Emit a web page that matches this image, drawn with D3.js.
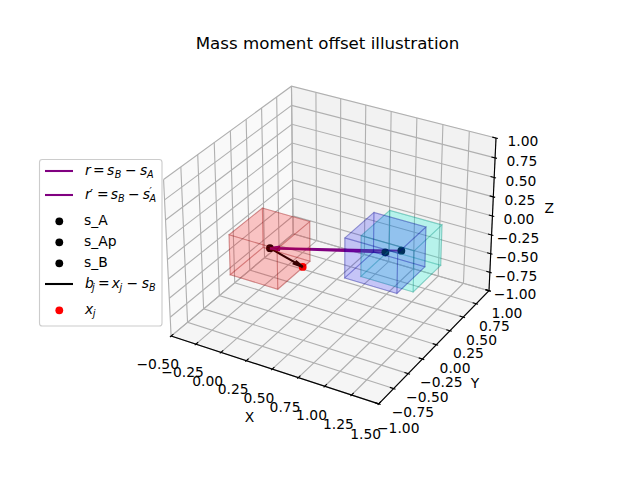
<!DOCTYPE html>
<html><head><meta charset="utf-8">
<style>html,body{margin:0;padding:0;background:#fff}svg{display:block}text{font-family:"DejaVu Sans";fill:#000}</style>
<script src="https://cdn.jsdelivr.net/npm/d3@7"></script></head>
<body><svg id="c" width="640" height="480"></svg>
<script>
const titleText = "Mass moment offset illustration";
const xTicks = [-0.5,-0.25,0,0.25,0.5,0.75,1,1.25,1.5];
const yTicks = [-1,-0.75,-0.5,-0.25,0,0.25,0.5,0.75,1];
const zTicks = [-1,-0.75,-0.5,-0.25,0,0.25,0.5,0.75,1];
const xLim = [-0.5,1.5], yLim = [-1,1], zLim = [-1,1];
const sA = [0.769,0.432,-0.384];
const sAp = [0.874,0.528,-0.384];
const sB = [-0.127,0,-0.384];
const xj = [0.154,0.077,-0.576];
const boxNames = ["A","B","C"];
const boxCenters = [[-0.127,0,-0.384],[0.769,0.432,-0.384],[0.874,0.528,-0.384]];
const boxSizes = [[0.48,0.54,0.53],[0.51,0.51,0.53],[0.51,0.51,0.54]];
const boxColors = ["#ff0000","#0000ff","#00f5d5"];
const boxAlpha = [0.115,0.1,0.13];

const svg = d3.select("#c");
const bx=1.8294640721620434*4/Math.sqrt(41), bz=1.8294640721620434*3/Math.sqrt(41);
const sx=d3.scaleLinear().domain(xLim).range([-bx/48,bx+bx/48]);
const sy=d3.scaleLinear().domain(yLim).range([-bx/48,bx+bx/48]);
const sz=d3.scaleLinear().domain(zLim).range([-bz/48,bz+bz/48]);
const px=d3.scaleLinear().domain([-0.095,0.09]).range([143.2,512.8]);
const py=d3.scaleLinear().domain([-0.095,0.09]).range([427.2,57.6]);
const el=30*Math.PI/180, az=-60*Math.PI/180, D=10;
const W=[Math.cos(el)*Math.cos(az),Math.cos(el)*Math.sin(az),Math.sin(el)];
const U=[-Math.sin(az),Math.cos(az),0];
const V=[W[1]*U[2]-W[2]*U[1],W[2]*U[0]-W[0]*U[2],W[0]*U[1]-W[1]*U[0]];
const dot=(a,b)=>a[0]*b[0]+a[1]*b[1]+a[2]*b[2];
function cam(p){const d=[sx(p[0])-bx/2,sy(p[1])-bx/2,sz(p[2])-bz/2];return [dot(d,U),dot(d,V),dot(d,W)];}
function proj(p){const c=cam(p),T=D-c[2];return [px(c[0]/T),py(c[1]/T)];}
const near=p=>cam(p)[2];
const line=d3.line();
const lims=[xLim,yLim,zLim];
const delt=lims.map(l=>(l[1]-l[0])/12);
const d2=delt.map(d=>d*(1+1/24));
const [x0,y0,z0]=lims.map(l=>l[0]),[x1,y1,z1]=lims.map(l=>l[1]);

const panes=[
 {c:"#f9f9f9",p:[[x0,y0,z0],[x0,y1,z0],[x0,y1,z1],[x0,y0,z1]]},
 {c:"#f2f2f2",p:[[x0,y1,z0],[x1,y1,z0],[x1,y1,z1],[x0,y1,z1]]},
 {c:"#f5f5f5",p:[[x0,y0,z0],[x1,y0,z0],[x1,y1,z0],[x0,y1,z0]]}];
svg.append("g").selectAll("path").data(panes).join("path")
 .attr("d",d=>line(d.p.map(proj))+"Z").attr("fill",d=>d.c).attr("stroke",d=>d.c).attr("stroke-width",1);
const gridC="#b0b0b0", gridW=1.11;
const grid=svg.append("g").attr("fill","none").attr("stroke",gridC).attr("stroke-width",gridW);
xTicks.forEach(t=>grid.append("path").attr("d",line([[t,y0,z0],[t,y1,z0],[t,y1,z1]].map(proj))));
yTicks.forEach(t=>grid.append("path").attr("d",line([[x1,t,z0],[x0,t,z0],[x0,t,z1]].map(proj))));
zTicks.forEach(t=>grid.append("path").attr("d",line([[x0,y0,t],[x0,y1,t],[x1,y1,t]].map(proj))));

const fmt=d3.format(".2f");
const lab=t=>fmt(t).replace("-","\u2212");
const perPt=48/(72*3.696*2);
const tickOff=(3.5+8)*perPt, labOff=(4+21)*perPt;
const ax=svg.append("g");
function axis(edge1,edge2,idx,tickdir,ticks,signs,name,tickNudge,labelNudge,moveAll){
 ax.append("path").attr("d",line([edge1,edge2].map(proj))).attr("stroke","#000").attr("stroke-width",1.11).attr("fill","none");
 ticks.forEach(t=>{
  const a=edge1.slice(),b=edge1.slice();
  a[idx]=t;b[idx]=t;
  a[tickdir]+=0.1*signs[tickdir]*d2[tickdir];
  b[tickdir]-=0.2*signs[tickdir]*d2[tickdir];
  ax.append("path").attr("d",line([a,b].map(proj))).attr("stroke","#000").attr("stroke-width",1.11);
  const l=edge1.slice();l[idx]=t;
  [0,1,2].forEach(i=>{if(i!==idx&&(moveAll||i===tickdir))l[i]+=signs[i]*tickOff*d2[i];});
  const q=proj(l);
  ax.append("text").attr("x",q[0]+tickNudge[0]).attr("y",q[1]+tickNudge[1]).attr("text-anchor","middle").attr("dominant-baseline","central")
    .attr("font-size",13.89).text(lab(t));
 });
 const m=[0,1,2].map(i=>(edge1[i]+edge2[i])/2);
 [0,1,2].forEach(i=>{if(i!==idx)m[i]+=signs[i]*labOff*d2[i];});
 const q=proj(m);
 ax.append("text").attr("x",q[0]+labelNudge[0]).attr("y",q[1]+labelNudge[1]).attr("text-anchor","middle").attr("dominant-baseline","central")
   .attr("font-size",13.89).text(name);
}
axis([x0,y0,z0],[x1,y0,z0],0,1,xTicks,[0,-1,-1],"X",[-2,4.5],[2,-5],true);
axis([x1,y0,z0],[x1,y1,z0],1,0,yTicks,[1,0,-1],"Y",[0,3.5],[-2,-4],true);
axis([x1,y1,z0],[x1,y1,z1],2,0,zTicks,[1,1,0],"Z",[7.5,-2],[-4,0],false);

function boxFaces(c,s){
 const a=c.map((v,i)=>v-s[i]/2),b=c.map((v,i)=>v+s[i]/2);
 return [
  [[a[0],a[1],a[2]],[b[0],a[1],a[2]],[b[0],b[1],a[2]],[a[0],b[1],a[2]]],
  [[a[0],a[1],b[2]],[b[0],a[1],b[2]],[b[0],b[1],b[2]],[a[0],b[1],b[2]]],
  [[a[0],a[1],a[2]],[b[0],a[1],a[2]],[b[0],a[1],b[2]],[a[0],a[1],b[2]]],
  [[a[0],b[1],a[2]],[b[0],b[1],a[2]],[b[0],b[1],b[2]],[a[0],b[1],b[2]]],
  [[a[0],a[1],a[2]],[a[0],b[1],a[2]],[a[0],b[1],b[2]],[a[0],a[1],b[2]]],
  [[b[0],a[1],a[2]],[b[0],b[1],a[2]],[b[0],b[1],b[2]],[b[0],a[1],b[2]]]];
}
function quiver(from,to,ratio){
 const d=to.map((v,i)=>v-from[i]);
 const n=Math.hypot(d[0],d[1],d[2]);
 const u=d.map(v=>v/n);
 const seg=[[from,to]];
 const ax_=[-u[1],u[0],0],an=Math.hypot(ax_[0],ax_[1])||1;
 const k=[ax_[0]/an,ax_[1]/an,0];
 [15,-15].forEach(deg=>{
  const t=deg*Math.PI/180,cs=Math.cos(t),sn=Math.sin(t);
  const cr=[k[1]*u[2]-k[2]*u[1],k[2]*u[0]-k[0]*u[2],k[0]*u[1]-k[1]*u[0]];
  const dk=dot(k,u);
  const r=[0,1,2].map(i=>u[i]*cs+cr[i]*sn+k[i]*dk*(1-cs));
  seg.push([to,to.map((v,i)=>v-r[i]*n*ratio)]);
 });
 return seg;
}
const items=[];
boxCenters.forEach((c,i)=>{
 const faces=boxFaces(c,boxSizes[i]);
 items.push({depth:d3.max(faces.flat(),near),draw(g){
  faces.slice().sort((p,q)=>d3.mean(p,near)-d3.mean(q,near)).forEach(f=>{
   g.append("path").attr("d",line(f.map(proj))+"Z").attr("fill",boxColors[i]).attr("fill-opacity",boxAlpha[i])
    .attr("stroke","#000").attr("stroke-opacity",0.1).attr("stroke-width",1.1);
   g.append("path").attr("d",line(f.map(proj))+"Z").attr("fill","none")
    .attr("stroke",boxColors[i]).attr("stroke-opacity",0.12).attr("stroke-width",1.1);
  });
 }});
});
[[sA,sB,"#800080",0.08],[sAp,sB,"#800080",0.08],[sB,xj,"#000",0.27]].forEach(([f,t,c,r])=>{
 const seg=quiver(f,t,r);
 items.push({depth:d3.max(seg.flat(),near),draw(g){
  seg.forEach(s=>g.append("path").attr("d",line(s.map(proj))).attr("stroke",c).attr("stroke-width",2.08).attr("fill","none"));
 }});
});
[[sA,"#000"],[sAp,"#000"],[sB,"#000"],[xj,"#f00"]].forEach(([p,c])=>{
 items.push({depth:near(p),draw(g){const q=proj(p);g.append("circle").attr("cx",q[0]).attr("cy",q[1]).attr("r",3.9).attr("fill",c);}});
});
const scene=svg.append("g");
items.sort((a,b)=>a.depth-b.depth).forEach(it=>it.draw(scene));

svg.append("text").attr("x",327.5).attr("y",49).attr("text-anchor","middle").attr("font-size",16.67).text(titleText);

const lg=svg.append("g");
lg.append("rect").attr("x",39.5).attr("y",159.5).attr("width",122.5).attr("height",166.5).attr("rx",2.8)
 .attr("fill","#fff").attr("fill-opacity",0.8).attr("stroke","#ccc").attr("stroke-width",1.11);
function mathLine(y,parts){
 const t=lg.append("text").attr("y",y).attr("font-size",13.89);
 let prev=0;
 parts.forEach(([s,style,x,shift])=>{
  const sh=shift||0;
  t.append("tspan").text(s).attr("x",x).attr("dy",sh-prev)
   .attr("font-style",style==="i"||style==="si"?"italic":"normal")
   .attr("font-size",style==="s"||style==="si"?9.7:13.89);
  prev=sh;
 });
}
[[171,"#800080"],[195,"#800080"],[284,"#000"]].forEach(([y,c])=>lg.append("line").attr("x1",45).attr("x2",73).attr("y1",y).attr("y2",y).attr("stroke",c).attr("stroke-width",2.08));
[[221.3,"#000"],[242.3,"#000"],[263.3,"#000"],[310.3,"#f00"]].forEach(([y,c])=>lg.append("circle").attr("cx",59.3).attr("cy",y).attr("r",3.9).attr("fill",c));
mathLine(175,[["r","i",85],["=","n",93],["s","i",107],["B","si",114.8,2.5],["\u2212","n",125],["s","i",140],["A","si",147,2.5]]);
mathLine(199,[["r","i",85],["\u2032","n",90],["=","n",97],["s","i",110.7],["B","si",118,2.5],["\u2212","n",128],["s","i",142.7],["\u2032","si",149.5,-4],["A","si",149.5,2.5]]);
[[225,"s_A"],[246,"s_Ap"],[267,"s_B"]].forEach(([y,s])=>lg.append("text").attr("x",84).attr("y",y).attr("font-size",13.89).text(s));
mathLine(288,[["b","i",85],["j","si",92,3],["=","n",98,0],["x","i",111.7],["j","si",119.5,3],["\u2212","n",126.5,0],["s","i",141.7],["B","si",149,2.5]]);
mathLine(313.5,[["x","i",85],["j","si",92.7,3]]);
</script></body></html>
